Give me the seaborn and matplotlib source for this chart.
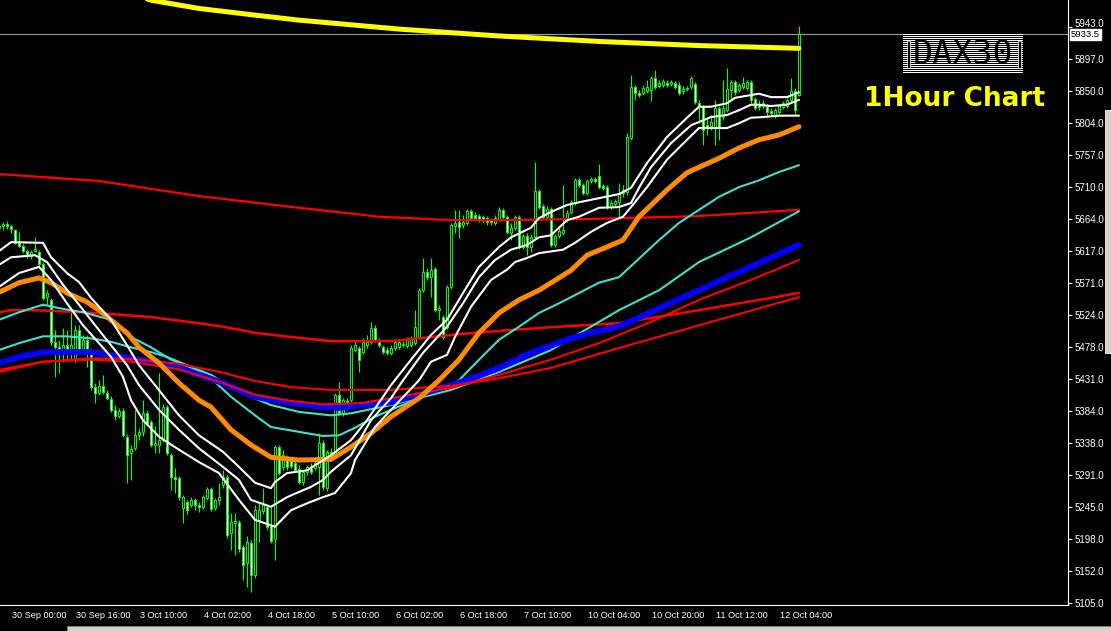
import numpy as np
import matplotlib
matplotlib.use("Agg")
import matplotlib.pyplot as plt
import matplotlib.transforms as mtransforms
from matplotlib.patches import Rectangle
import seaborn as sns

# DAX30 hourly candles, first bar sits just left of 30 Sep 00:00
first_bar = -1
opens = [5650,
    5653, 5656, 5653, 5648, 5629, 5624, 5617, 5610, 5617, 5616, 5598, 5550, 5546, 5485, 5477, 5473, 5480, 5473, 5459, 5502,
    5473, 5488, 5473, 5419, 5410, 5421, 5410, 5402, 5386, 5377, 5384, 5347, 5323, 5330, 5349, 5354, 5381, 5368, 5335, 5335,
    5342, 5390, 5320, 5288, 5287, 5243, 5252, 5248, 5255, 5248, 5245, 5258, 5271, 5243, 5255, 5277, 5288, 5207, 5221, 5223,
    5187, 5163, 5192, 5146, 5226, 5239, 5245, 5219, 5198, 5332, 5303, 5317, 5313, 5309, 5300, 5281, 5296, 5303, 5301, 5303,
    5338, 5272, 5325, 5320, 5408, 5381, 5399, 5400, 5473, 5476, 5470, 5480, 5485, 5505, 5485, 5477, 5473, 5469, 5476, 5477,
    5480, 5479, 5480, 5483, 5492, 5560, 5587, 5579, 5591, 5531, 5521, 5507, 5565, 5653, 5659, 5655, 5658, 5675, 5670, 5668,
    5667, 5665, 5662, 5658, 5664, 5677, 5667, 5643, 5651, 5667, 5623, 5639, 5623, 5637, 5704, 5683, 5667, 5678, 5626, 5639,
    5643, 5662, 5674, 5687, 5720, 5713, 5701, 5719, 5722, 5726, 5712, 5710, 5681, 5685, 5688, 5701, 5703, 5781, 5856, 5847,
    5847, 5850, 5851, 5869, 5857, 5859, 5862, 5860, 5862, 5859, 5850, 5854, 5856, 5860, 5832, 5827, 5800, 5799, 5798, 5825,
    5812, 5822, 5851, 5863, 5851, 5856, 5854, 5863, 5838, 5831, 5828, 5828, 5821, 5814, 5819, 5827, 5828, 5837, 5850, 5844]
closes = [5653,
    5656, 5653, 5649, 5629, 5624, 5617, 5610, 5616, 5620, 5598, 5549, 5556, 5485, 5477, 5473, 5480, 5473, 5480, 5502, 5473,
    5488, 5473, 5419, 5410, 5421, 5412, 5403, 5386, 5377, 5384, 5349, 5320, 5329, 5349, 5354, 5381, 5367, 5335, 5338, 5342,
    5390, 5323, 5288, 5285, 5259, 5259, 5240, 5255, 5248, 5245, 5259, 5271, 5242, 5255, 5259, 5288, 5204, 5223, 5224, 5184,
    5160, 5194, 5146, 5240, 5240, 5248, 5216, 5195, 5332, 5294, 5320, 5303, 5304, 5298, 5281, 5296, 5303, 5296, 5309, 5338,
    5274, 5325, 5317, 5408, 5381, 5400, 5390, 5476, 5480, 5459, 5485, 5485, 5505, 5487, 5480, 5470, 5469, 5476, 5485, 5485,
    5482, 5488, 5489, 5507, 5560, 5587, 5579, 5589, 5531, 5534, 5492, 5565, 5655, 5658, 5652, 5659, 5675, 5665, 5665, 5664,
    5662, 5659, 5659, 5665, 5677, 5667, 5645, 5651, 5667, 5623, 5639, 5623, 5637, 5704, 5681, 5667, 5678, 5626, 5639, 5646,
    5648, 5672, 5688, 5720, 5713, 5701, 5719, 5722, 5719, 5710, 5709, 5681, 5687, 5690, 5701, 5706, 5783, 5856, 5847, 5844,
    5854, 5856, 5869, 5856, 5862, 5864, 5859, 5863, 5856, 5847, 5853, 5853, 5869, 5834, 5827, 5793, 5796, 5805, 5825, 5798,
    5825, 5853, 5863, 5848, 5859, 5862, 5863, 5837, 5825, 5827, 5832, 5819, 5818, 5822, 5828, 5832, 5837, 5850, 5822, 5933.5]
highs = [5656,
    5659, 5661, 5655, 5649, 5645, 5627, 5620, 5619, 5637, 5619, 5601, 5560, 5549, 5502, 5488, 5505, 5502, 5536, 5509, 5509,
    5495, 5495, 5476, 5425, 5429, 5437, 5415, 5406, 5393, 5389, 5389, 5351, 5335, 5386, 5360, 5400, 5386, 5371, 5362, 5440,
    5394, 5393, 5323, 5301, 5290, 5262, 5255, 5259, 5258, 5252, 5262, 5274, 5274, 5258, 5280, 5298, 5291, 5236, 5236, 5226,
    5189, 5202, 5197, 5248, 5252, 5272, 5248, 5245, 5335, 5335, 5328, 5320, 5317, 5313, 5306, 5298, 5306, 5309, 5313, 5352,
    5342, 5328, 5330, 5410, 5427, 5403, 5403, 5480, 5488, 5479, 5490, 5495, 5514, 5509, 5490, 5480, 5477, 5480, 5488, 5489,
    5486, 5492, 5493, 5531, 5563, 5607, 5592, 5607, 5594, 5539, 5524, 5568, 5658, 5677, 5677, 5670, 5678, 5678, 5674, 5671,
    5670, 5668, 5665, 5670, 5681, 5680, 5670, 5658, 5670, 5670, 5642, 5643, 5642, 5747, 5707, 5685, 5683, 5681, 5642, 5651,
    5713, 5677, 5691, 5723, 5725, 5716, 5722, 5725, 5725, 5744, 5715, 5713, 5691, 5693, 5716, 5713, 5789, 5873, 5859, 5851,
    5859, 5866, 5872, 5880, 5866, 5867, 5866, 5866, 5864, 5863, 5857, 5857, 5872, 5863, 5837, 5830, 5811, 5815, 5837, 5828,
    5866, 5883, 5866, 5866, 5862, 5870, 5866, 5866, 5841, 5837, 5837, 5831, 5825, 5825, 5831, 5835, 5840, 5869, 5854, 5945]
lows = [5645,
    5648, 5649, 5643, 5627, 5623, 5614, 5607, 5605, 5616, 5595, 5546, 5539, 5480, 5434, 5440, 5456, 5459, 5459, 5456, 5470,
    5470, 5448, 5415, 5396, 5408, 5409, 5400, 5383, 5371, 5374, 5347, 5280, 5284, 5328, 5342, 5348, 5364, 5332, 5323, 5323,
    5339, 5320, 5269, 5265, 5255, 5221, 5234, 5245, 5240, 5237, 5242, 5255, 5239, 5240, 5248, 5272, 5200, 5182, 5175, 5179,
    5138, 5128, 5121, 5141, 5194, 5234, 5211, 5192, 5168, 5291, 5298, 5298, 5301, 5296, 5278, 5277, 5291, 5293, 5298, 5262,
    5269, 5268, 5313, 5317, 5378, 5377, 5386, 5397, 5470, 5441, 5467, 5476, 5482, 5485, 5477, 5467, 5466, 5466, 5473, 5475,
    5477, 5476, 5477, 5480, 5489, 5557, 5575, 5550, 5528, 5517, 5489, 5504, 5562, 5643, 5636, 5651, 5655, 5662, 5662, 5659,
    5658, 5655, 5655, 5655, 5661, 5664, 5642, 5633, 5648, 5620, 5620, 5611, 5616, 5635, 5678, 5664, 5664, 5623, 5623, 5636,
    5640, 5659, 5671, 5684, 5710, 5699, 5699, 5716, 5716, 5707, 5706, 5678, 5678, 5683, 5667, 5696, 5699, 5779, 5837, 5841,
    5844, 5847, 5835, 5853, 5854, 5856, 5856, 5857, 5853, 5844, 5846, 5850, 5853, 5831, 5803, 5771, 5786, 5793, 5771, 5779,
    5808, 5819, 5837, 5844, 5848, 5853, 5851, 5832, 5822, 5822, 5825, 5812, 5814, 5811, 5816, 5824, 5825, 5834, 5815, 5843]

time_ticks = [2, 18, 34, 50, 66, 82, 98, 114, 130, 146, 162, 178, 194]
time_labels = ["30 Sep 00:00", "30 Sep 16:00", "3 Oct 10:00", "4 Oct 02:00", "4 Oct 18:00",
               "5 Oct 10:00", "6 Oct 02:00", "6 Oct 18:00", "7 Oct 10:00", "10 Oct 04:00",
               "10 Oct 20:00", "11 Oct 12:00", "12 Oct 04:00"]
price_ticks = [5105, 5152, 5198, 5245, 5291, 5338, 5384, 5431, 5478, 5524,
               5571, 5617, 5664, 5710, 5757, 5804, 5850, 5897, 5943]
last_price = 5933.5

# moving averages, sampled along the chart (bar index, price)
yellow_bars = [25, 37, 49, 62, 74, 99, 124, 149, 174, 199]
yellow_vals = [6004, 5982, 5970, 5961, 5953, 5940, 5930, 5922, 5916, 5912]

red_long_bars = [-1, 24, 49, 74, 94, 112, 124, 149, 174, 199]
red_long_vals = [5729, 5719, 5697, 5680, 5667, 5662, 5662, 5664, 5668, 5677]

red_mid_bars = [-1, 2, 8, 20, 28, 37, 49, 55, 63, 72, 82, 97, 112, 124, 139, 154, 174, 199]
red_mid_vals = [5528, 5531, 5531, 5528, 5525, 5521, 5512, 5507, 5498, 5492, 5486, 5486, 5495, 5501, 5507, 5512, 5531, 5556]

blue_bars = [-1, 4, 10, 22, 27, 32, 38, 44, 49, 55, 63, 72, 80, 84, 90, 97, 104, 116, 124, 132, 141, 147, 154, 174, 199]
blue_vals = [5454, 5463, 5470, 5470, 5466, 5461, 5456, 5448, 5437, 5425, 5405, 5396, 5390, 5389, 5393, 5397, 5408, 5429,
             5447, 5469, 5488, 5498, 5507, 5560, 5626]

red_a_bars = [-1, 10, 22, 32, 44, 55, 63, 72, 80, 90, 99, 112, 124, 137, 149, 162, 174, 187, 199]
red_a_vals = [5441, 5456, 5459, 5456, 5445, 5425, 5408, 5399, 5394, 5396, 5405, 5418, 5437, 5459, 5483, 5514, 5546, 5575, 5604]

red_b_bars = [-1, 10, 22, 32, 44, 55, 63, 72, 82, 97, 112, 124, 137, 154, 174, 199]
red_b_vals = [5444, 5456, 5461, 5460, 5453, 5440, 5428, 5419, 5415, 5415, 5421, 5432, 5447, 5476, 5509, 5550]

cyan_fast_bars = [-1, 4, 10, 14, 20, 27, 32, 37, 42, 47, 52, 57, 63, 67, 74, 80, 84, 88, 93, 97,
                  104, 114, 119, 124, 129, 134, 139, 144, 149, 154, 164, 169, 174, 179, 184, 189, 194, 199]
cyan_fast_vals = [5517, 5528, 5539, 5534, 5528, 5517, 5492, 5477, 5459, 5447, 5432, 5405, 5378, 5361, 5354, 5348, 5349,
                  5360, 5376, 5386, 5403, 5429, 5459, 5488, 5507, 5527, 5541, 5556, 5571, 5579, 5633, 5658, 5677, 5696,
                  5710, 5720, 5732, 5742]

cyan_slow_bars = [-1, 4, 10, 16, 22, 27, 32, 37, 41, 46, 52, 59, 67, 74, 82, 87, 92, 97, 112, 124, 137, 154, 164, 174, 187, 199]
cyan_slow_vals = [5473, 5483, 5493, 5493, 5490, 5485, 5477, 5470, 5463, 5451, 5437, 5412, 5393, 5383, 5378, 5381, 5387,
                  5393, 5415, 5441, 5473, 5531, 5560, 5601, 5637, 5675]

orange_bars = [-1, 4, 9, 12, 16, 21, 24, 28, 31, 34, 39, 44, 49, 52, 57, 62, 67, 74, 82, 87, 92, 97, 104, 109, 114, 119,
               124, 129, 134, 139, 142, 146, 151, 155, 159, 166, 171, 174, 179, 184, 189, 194, 199]
orange_vals = [5557, 5571, 5578, 5571, 5556, 5543, 5531, 5512, 5498, 5477, 5454, 5425, 5400, 5390, 5357, 5335, 5317,
               5313, 5314, 5332, 5352, 5376, 5403, 5429, 5459, 5498, 5527, 5546, 5560, 5578, 5589, 5611, 5623, 5633,
               5667, 5706, 5731, 5739, 5752, 5767, 5779, 5786, 5798]

white_up_bars = [-1, 2, 10, 12, 16, 19, 22, 27, 31, 34, 38, 44, 49, 55, 59, 63, 67, 68, 71, 76, 79, 82, 87, 91, 97,
                 102, 107, 111, 115, 119, 124, 127, 132, 134, 137, 141, 144, 149, 154, 157, 161, 166, 171, 174, 177,
                 181, 183, 187, 189, 192, 196, 199]
white_up_vals = [5617, 5630, 5629, 5608, 5585, 5572, 5549, 5517, 5480, 5451, 5422, 5378, 5349, 5325, 5303, 5280, 5272,
                 5281, 5294, 5298, 5309, 5320, 5342, 5371, 5422, 5459, 5495, 5517, 5556, 5594, 5623, 5637, 5651, 5665,
                 5674, 5684, 5688, 5694, 5700, 5709, 5745, 5783, 5811, 5827, 5827, 5832, 5840, 5844, 5846, 5841, 5841, 5848]

white_mid_bars = [-1, 2, 8, 11, 15, 19, 24, 27, 31, 34, 39, 44, 49, 55, 59, 62, 67, 71, 77, 80, 82, 87, 92, 97, 100,
                  105, 111, 115, 119, 123, 127, 131, 134, 137, 141, 144, 149, 154, 157, 159, 162, 167, 172, 177, 181,
                  184, 187, 189, 192, 196, 199]
white_mid_vals = [5597, 5608, 5611, 5601, 5568, 5539, 5502, 5480, 5451, 5422, 5386, 5357, 5330, 5303, 5284, 5255, 5245,
                  5259, 5274, 5284, 5296, 5320, 5371, 5403, 5429, 5469, 5507, 5541, 5579, 5604, 5619, 5626, 5637, 5640,
                  5662, 5667, 5680, 5681, 5687, 5709, 5739, 5774, 5800, 5812, 5815, 5822, 5830, 5830, 5828, 5830, 5837]

white_low_bars = [-1, 4, 9, 12, 16, 20, 24, 27, 30, 32, 35, 39, 44, 49, 54, 59, 63, 68, 72, 76, 80, 83, 87, 88, 93, 97,
                  104, 107, 111, 113, 117, 122, 126, 128, 131, 134, 140, 143, 147, 151, 155, 157, 161, 166, 171, 174,
                  177, 181, 184, 187, 190, 194, 199]
white_low_vals = [5565, 5585, 5594, 5575, 5541, 5509, 5483, 5463, 5434, 5400, 5371, 5347, 5328, 5310, 5294, 5255, 5226,
                  5216, 5240, 5250, 5259, 5265, 5294, 5313, 5361, 5386, 5429, 5456, 5466, 5492, 5536, 5575, 5590, 5601,
                  5607, 5614, 5619, 5629, 5645, 5658, 5667, 5681, 5710, 5750, 5779, 5796, 5796, 5796, 5803, 5811, 5812,
                  5814, 5814]

W, H = 1111, 631
LIME = "#00ff00"

sns.set_theme(style="dark", rc={"axes.facecolor": "black", "figure.facecolor": "black"})
plt.rcParams["font.family"] = ["Liberation Sans", "DejaVu Sans"]

fig = plt.figure(figsize=(W / 100, H / 100), dpi=100)
ax = fig.add_axes([0, 26 / H, 1068 / W, 605 / H])
ax.set_facecolor("black")
ax.grid(False)
# 4 px per hourly bar
ax.set_xlim(-0.75, 266.25)
ax.set_ylim(5102.1, 5982.3)

# candles
bars = np.arange(len(opens)) + first_bar
o = np.array(opens, dtype=float)
c = np.array(closes, dtype=float)
body_bottom = np.minimum(o, c)
body_height = np.maximum(np.abs(c - o), 1.0)
fills = np.where(c < o, "white", "black")
ax.vlines(bars, lows, highs, colors=LIME, linewidth=0.8, zorder=2)
ax.bar(bars, body_height, bottom=body_bottom, width=0.72, color=fills,
       edgecolor=LIME, linewidth=0.7, zorder=3)

ax.axhline(last_price, color="#a0a0ac", linewidth=0.8, zorder=1)

# indicators
lines = [
    (red_long_bars, red_long_vals, "#ff0000", 1.6),
    (red_mid_bars, red_mid_vals, "#ff0000", 1.8),
    (cyan_slow_bars, cyan_slow_vals, "#40e0d0", 1.5),
    (cyan_fast_bars, cyan_fast_vals, "#40e0d0", 1.5),
    (blue_bars, blue_vals, "#0000ff", 4.3),
    (red_a_bars, red_a_vals, "#ff0000", 1.5),
    (red_b_bars, red_b_vals, "#ff0000", 1.5),
    (orange_bars, orange_vals, "#ff8c00", 3.6),
    (white_low_bars, white_low_vals, "white", 1.5),
    (white_mid_bars, white_mid_vals, "white", 1.5),
    (white_up_bars, white_up_vals, "white", 1.5),
    (yellow_bars, yellow_vals, "#ffff00", 3.6),
]
for i, (xs, ys, col, lw) in enumerate(lines):
    sns.lineplot(x=xs, y=ys, ax=ax, color=col, linewidth=lw, legend=False, zorder=4 + i * 0.1)
ax.set_xlabel("")
ax.set_ylabel("")

# axes in MT4 style
for side in ["top", "left"]:
    ax.spines[side].set_visible(False)
for side in ["right", "bottom"]:
    ax.spines[side].set_visible(True)
    ax.spines[side].set_color("white")
    ax.spines[side].set_linewidth(0.8)

ax.yaxis.tick_right()
ax.set_yticks(price_ticks)
ax.set_yticklabels([f"{p:.1f}" for p in price_ticks])
ax.tick_params(axis="y", colors="white", labelsize=7, length=3, width=0.8, pad=2, direction="out")
ax.set_xticks(time_ticks)
ax.set_xticklabels(time_labels, ha="left")
ax.tick_params(axis="x", colors="white", labelsize=6.6, length=3, width=0.8, pad=1.5, direction="out")
shift = mtransforms.ScaledTranslation(1.5 / 100, 0, fig.dpi_scale_trans)
for lbl in ax.get_xticklabels():
    lbl.set_transform(lbl.get_transform() + shift)
# top price label sits just above the current-price tag
top_lbl = ax.get_yticklabels()[-1]
top_lbl.set_transform(top_lbl.get_transform() + mtransforms.ScaledTranslation(0, 4 / 100, fig.dpi_scale_trans))

ax.annotate(f"{last_price:.1f}", xy=(1.0, last_price), xycoords=("axes fraction", "data"),
            xytext=(3, -1), textcoords="offset pixels", ha="left", va="center",
            fontsize=6.8, color="black", annotation_clip=False, zorder=10,
            bbox=dict(boxstyle="square,pad=0.1", fc="white", ec="white"))

# title box "DAX30" on striped background
fig.add_artist(Rectangle((903 / W, 1 - 73 / H), 120 / W, 40 / H, transform=fig.transFigure,
                         facecolor="black", edgecolor="none"))
for yy in range(34, 73, 2):
    fig.add_artist(Rectangle((903 / W, 1 - (yy + 1) / H), 120 / W, 1 / H, transform=fig.transFigure,
                             facecolor="white", edgecolor="none"))
for bx in [907, 1018]:
    fig.add_artist(Rectangle((bx / W, 1 - 68 / H), 3 / W, 27 / H, transform=fig.transFigure,
                             facecolor="black", edgecolor="white", linewidth=0.5))
fig.text(963 / W, 1 - 54 / H, "DAX30", ha="center", va="center", fontsize=24,
         family="DejaVu Sans Mono", color="black")
fig.text(864 / W, 1 - 99 / H, "1Hour Chart", ha="left", va="center", fontsize=19,
         fontweight="bold", family="DejaVu Sans", color="#ffff00")

# window chrome: scrollbar on the right and status bar at the bottom
fig.add_artist(Rectangle((1105 / W, 1 - 353 / H), 6 / W, 243 / H, transform=fig.transFigure,
                         facecolor="#d4d0c8", edgecolor="white", linewidth=0.6))
fig.add_artist(Rectangle((67 / W, 0), 1, 5 / H, transform=fig.transFigure,
                         facecolor="#d4d0c8", edgecolor="#808080", linewidth=0.6))

fig.savefig("out.png", dpi=100, facecolor="black")
